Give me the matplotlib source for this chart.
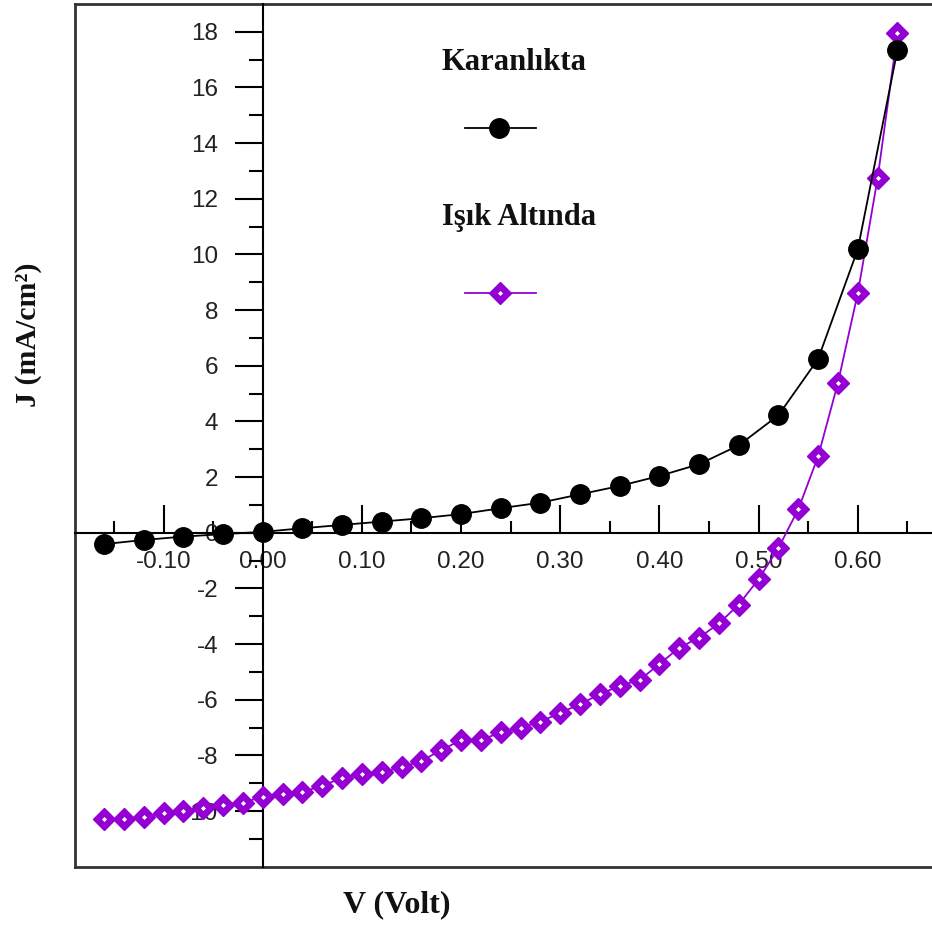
import matplotlib
matplotlib.use("Agg")
import matplotlib.pyplot as plt
from matplotlib.lines import Line2D
from matplotlib.ticker import FixedLocator, FormatStrFormatter

plt.rcParams['axes.unicode_minus'] = False

# ---- data ----
v_dark = [-0.16, -0.12, -0.08, -0.04, 0.00, 0.04, 0.08, 0.12, 0.16, 0.20, 0.24,
          0.28, 0.32, 0.36, 0.40, 0.44, 0.48, 0.52, 0.56, 0.60, 0.64]
j_dark = [-0.41, -0.26, -0.14, -0.05, 0.03, 0.16, 0.28, 0.40, 0.52, 0.67, 0.88,
          1.08, 1.38, 1.68, 2.04, 2.46, 3.14, 4.22, 6.24, 10.18, 17.34]

v_light = [-0.16, -0.14, -0.12, -0.10, -0.08, -0.06, -0.04, -0.02, 0.00, 0.02,
           0.04, 0.06, 0.08, 0.10, 0.12, 0.14, 0.16, 0.18, 0.20, 0.22, 0.24,
           0.26, 0.28, 0.30, 0.32, 0.34, 0.36, 0.38, 0.40, 0.42, 0.44, 0.46,
           0.48, 0.50, 0.52, 0.54, 0.56, 0.58, 0.60, 0.62, 0.64]
j_light = [-10.30, -10.30, -10.20, -10.08, -10.00, -9.88, -9.78, -9.70, -9.49, -9.40,
           -9.31, -9.10, -8.80, -8.68, -8.59, -8.43, -8.20, -7.81, -7.45, -7.45, -7.17,
           -7.00, -6.79, -6.47, -6.16, -5.80, -5.50, -5.29, -4.72, -4.13, -3.77, -3.26,
           -2.58, -1.67, -0.55, 0.84, 2.74, 5.38, 8.60, 12.73, 17.94]

x_major = [-0.10, 0.00, 0.10, 0.20, 0.30, 0.40, 0.50, 0.60]
x_minor = [-0.15, -0.05, 0.05, 0.15, 0.25, 0.35, 0.45, 0.55, 0.65]
y_major = [-10, -8, -6, -4, -2, 0, 2, 4, 6, 8, 10, 12, 14, 16, 18]
y_minor = [-11, -9, -7, -5, -3, -1, 1, 3, 5, 7, 9, 11, 13, 15, 17]

label_dark = "Karanlıkta"
label_light = "Işık Altında"
xlabel = "V (Volt)"
ylabel = "J (mA/cm²)"

dark_color = "black"
light_color = "#9400D3"

W, H = 932, 927
fig = plt.figure(figsize=(W / 100, H / 100), dpi=100)

# axes geometry in pixels
left_px, right_px = 75, 937.1
top_px, bottom_px = 3.9, 866.7
pos = [left_px / W, (H - bottom_px) / H, (right_px - left_px) / W, (bottom_px - top_px) / H]

# frame axes
axf = fig.add_axes(pos, zorder=0)
axf.set_xticks([]); axf.set_yticks([])
axf.spines['right'].set_visible(False)
for s in ['left', 'top', 'bottom']:
    axf.spines[s].set_linewidth(2.0)
    axf.spines[s].set_color('#333333')

ax = fig.add_axes(pos, zorder=1)
ax.patch.set_alpha(0)
ax.set_xlim(-0.1893, 0.68)
ax.set_ylim(-12, 19)
ax.spines['left'].set_position(('data', 0))
ax.spines['bottom'].set_position(('data', 0))
ax.spines['right'].set_visible(False)
ax.spines['top'].set_visible(False)
for s in ['left', 'bottom']:
    ax.spines[s].set_linewidth(1.5)
    ax.spines[s].set_color('black')

ax.xaxis.set_major_locator(FixedLocator(x_major))
ax.xaxis.set_minor_locator(FixedLocator(x_minor))
ax.yaxis.set_major_locator(FixedLocator(y_major))
ax.yaxis.set_minor_locator(FixedLocator(y_minor))
ax.xaxis.set_major_formatter(FormatStrFormatter('%.2f'))
ax.yaxis.set_major_formatter(FormatStrFormatter('%d'))

ax.tick_params(axis='x', which='major', direction='in', length=20, width=1.5,
               pad=13, labelsize=17.5, labelcolor='#222222')
ax.tick_params(axis='x', which='minor', direction='in', length=8.6, width=1.5)
ax.tick_params(axis='y', which='major', direction='out', length=20, width=1.5,
               pad=12, labelsize=17.5, labelcolor='#222222')
ax.tick_params(axis='y', which='minor', direction='out', length=10, width=1.5)
for lab in ax.get_xticklabels() + ax.get_yticklabels():
    lab.set_family('Liberation Sans')

ax.plot(v_dark, j_dark, color=dark_color, lw=1.3, marker='o', ms=14,
        mfc=dark_color, mec=dark_color, zorder=4, clip_on=False)
ax.plot(v_light, j_light, color=light_color, lw=1.3, marker='D', ms=11.5,
        mfc=light_color, mec=light_color, zorder=3, clip_on=False)
ax.plot(v_light, j_light, linestyle='none', marker='D', ms=2.6,
        mfc='white', mec='none', zorder=3.5, clip_on=False)

# labels
serif_bold = dict(family='Liberation Serif', weight='bold', color='#111111')
fig.text(397 / W, 1 - 905 / H, xlabel, ha='center', va='center', fontsize=23, **serif_bold)
fig.text(29 / W, 1 - 335 / H, ylabel, ha='center', va='center', rotation=90,
         fontsize=21.5, **serif_bold)

# legend
fig.text(442 / W, 1 - 63 / H, label_dark, ha='left', va='center', fontsize=22, **serif_bold)
fig.text(442 / W, 1 - 218 / H, label_light, ha='left', va='center', fontsize=22, **serif_bold)
fig.add_artist(Line2D([465 / W, 536 / W], [1 - 128 / H, 1 - 128 / H], color=dark_color, lw=1.3))
fig.add_artist(Line2D([499 / W], [1 - 128 / H], color=dark_color, marker='o', ms=14))
fig.add_artist(Line2D([465 / W, 536 / W], [1 - 293 / H, 1 - 293 / H], color=light_color, lw=1.3))
fig.add_artist(Line2D([500 / W], [1 - 293 / H], color=light_color, marker='D', ms=11.5))
fig.add_artist(Line2D([500 / W], [1 - 293 / H], color='white', marker='D', ms=2.6, mec='none'))

fig.savefig('out.png', dpi=100)
